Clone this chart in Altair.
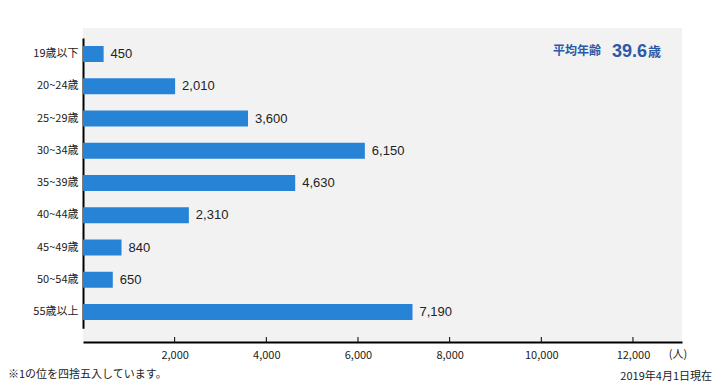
import altair as alt
import pandas as pd

ages = ["19歳以下", "20~24歳", "25~29歳", "30~34歳", "35~39歳",
        "40~44歳", "45~49歳", "50~54歳", "55歳以上"]
counts = [450, 2010, 3600, 6150, 4630, 2310, 840, 650, 7190]
x_ticks = [2000, 4000, 6000, 8000, 10000, 12000]
avg_label = "平均年齢"
avg_value = "39.6"
avg_unit = "歳"
unit_label = "(人)"
note_left = "※1の位を四捨五入しています。"
note_right = "2019年4月1日現在"

df = pd.DataFrame({"age": ages, "count": counts})
ticks_df = pd.DataFrame({"t": x_ticks})

W, H = 599, 314
JP = "Noto Sans CJK JP"
TXT = "#222222"
BLUE = "#2b5aa6"

xscale = alt.Scale(domain=[0, 13070], nice=False, zero=True)
yscale = alt.Scale(domain=ages, range=[9.875, 300.125],
                   paddingInner=0.504, paddingOuter=0.252)

base = alt.Chart(df)

bars = base.mark_bar(color="#2683d6").encode(
    x=alt.X("count:Q", scale=xscale,
            axis=alt.Axis(values=x_ticks, format=",d", title=None, ticks=False,
                          grid=False, domainColor="#000000", domainWidth=2,
                          labelFontSize=11, labelColor=TXT, labelFont=JP,
                          labelPadding=7)),
    y=alt.Y("age:N", sort=ages, scale=yscale,
            axis=alt.Axis(title=None, ticks=False, domainColor="#000000",
                          domainWidth=2, labelFontSize=11, labelColor=TXT,
                          labelFont=JP, labelPadding=5)),
)

values = base.mark_text(align="left", baseline="middle", dx=7, fontSize=13,
                        color=TXT, font="Liberation Sans").encode(
    x=alt.X("count:Q", scale=xscale),
    y=alt.Y("age:N", sort=ages, scale=yscale),
    text=alt.Text("count:Q", format=",d"),
)

tick_marks = alt.Chart(ticks_df).mark_rule(color="#000000", strokeWidth=1).encode(
    x=alt.X("t:Q", scale=xscale),
    y=alt.value(H - 5),
    y2=alt.value(H),
)

def label(text, x, y, size, align="left", baseline="middle", color=TXT,
          weight="normal", font=JP):
    return alt.Chart(pd.DataFrame({"t": [text]})).mark_text(
        align=align, baseline=baseline, fontSize=size, color=color,
        fontWeight=weight, font=font,
    ).encode(x=alt.value(x), y=alt.value(y), text="t:N")

annots = [
    label(avg_label, 470, 22.5, 12, color=BLUE, weight="bold"),
    label(avg_value, 529, 28.7, 18, baseline="alphabetic", color=BLUE,
          weight="bold", font="Liberation Sans"),
    label(avg_unit, 565, 24, 13, color=BLUE, weight="bold"),
    label(unit_label, 595, 327, 11, align="center"),
    label(note_left, -75, 347, 11),
    label(note_right, 629, 349, 11, align="right"),
]

chart = alt.layer(bars, tick_marks, values, *annots).properties(
    width=W, height=H,
    autosize=alt.AutoSizeParams(type="none"),
    padding={"left": 75, "top": 20, "right": 30, "bottom": 40},
    background="#ffffff",
).configure_view(fill="#f2f2f2", strokeWidth=0)

chart.save("out.html", embed_options={"renderer": "svg", "actions": False})
